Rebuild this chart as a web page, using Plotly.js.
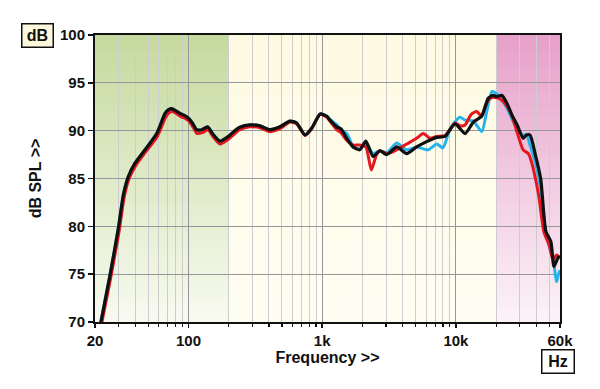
<!DOCTYPE html>
<html>
<head>
<meta charset="utf-8">
<script src="https://cdn.plot.ly/plotly-3.0.1.min.js"></script>
<style>html,body{margin:0;padding:0;background:#fff}#chart{width:600px;height:389px}</style>
</head>
<body>
<div id="chart"></div>
<script>
// ---- Data ----
const freqBlack = [22, 25.9, 29.9, 32.6, 35.5, 39.8, 47.3, 57.9, 66.8, 71, 74.9, 80, 86.4, 93, 100, 107, 115, 126, 139, 153, 172, 199, 222, 242, 288, 342, 406, 483, 574, 644, 745, 834, 966, 1084, 1143, 1286, 1380, 1524, 1700, 1912, 2120, 2400, 2700, 3040, 3610, 4280, 5080, 6040, 7170, 8280, 9840, 11700, 13500, 15560, 17460, 19000, 20100, 22000, 24000, 26300, 28700, 31800, 33700, 35800, 39300, 43000, 47100, 51300, 54100, 58500, 60000];
const splBlack = [69.8, 74.9, 79.8, 83.3, 85.2, 86.6, 88.0, 89.7, 91.8, 92.2, 92.3, 92.1, 91.8, 91.6, 91.3, 90.8, 90.1, 90.1, 90.4, 89.6, 88.9, 89.4, 90.0, 90.35, 90.6, 90.5, 90.1, 90.4, 91.0, 90.8, 89.55, 90.25, 91.75, 91.5, 91.1, 90.4, 90.2, 89.2, 88.3, 88.0, 88.9, 87.3, 87.9, 87.5, 88.3, 87.6, 88.3, 88.85, 89.3, 89.4, 90.7, 89.7, 90.9, 91.5, 93.4, 93.7, 93.55, 93.7, 92.9, 91.6, 90.6, 89.2, 89.55, 89.55, 87.45, 85.0, 79.45, 78.4, 75.8, 76.8, 76.7];

const freqRed = [22.4, 26.2, 30.3, 33, 36, 40.5, 48, 58.5, 67.5, 72, 76, 81, 87, 94, 101, 108, 116, 127, 140, 154, 172, 199, 222, 242, 288, 342, 406, 483, 574, 644, 745, 834, 966, 1084, 1143, 1286, 1380, 1524, 1700, 1912, 2120, 2330, 2550, 2700, 3040, 3400, 3610, 4280, 5080, 5700, 6400, 7170, 8280, 9300, 9840, 10800, 11700, 13000, 14300, 15560, 16500, 17460, 19000, 21500, 24000, 26300, 28700, 31800, 34800, 36600, 41500, 45500, 49600, 53300, 56500, 60000];
const splRed = [69.8, 74.6, 79.5, 83.0, 85.0, 86.4, 87.8, 89.4, 91.4, 91.9, 92.0, 91.8, 91.5, 91.3, 91.0, 90.4, 89.7, 89.8, 90.1, 89.3, 88.6, 89.1, 89.7, 90.1, 90.4, 90.3, 89.9, 90.2, 90.9, 90.7, 89.5, 90.2, 91.7, 91.4, 91.0, 90.1, 89.8, 89.0, 88.5, 88.5, 88.3, 85.9, 87.5, 87.9, 87.6, 87.8, 88.0, 88.6, 89.2, 89.7, 89.2, 89.4, 89.5, 90.4, 90.8, 90.5, 90.6, 91.7, 92.0, 91.5, 92.4, 93.2, 93.5, 93.3, 92.6, 91.5, 89.8, 88.0, 87.6, 86.8, 83.3, 79.4, 78.1, 76.5, 77.0, 76.7];

const freqCyan = [22, 25.9, 29.9, 32.6, 35.5, 39.8, 47.3, 57.9, 66.8, 71, 74.9, 80, 86.4, 93, 100, 107, 115, 126, 139, 153, 172, 199, 222, 242, 288, 342, 406, 483, 574, 644, 745, 834, 966, 1084, 1143, 1286, 1380, 1524, 1700, 1912, 2120, 2400, 2700, 3040, 3610, 4280, 5080, 6200, 7200, 8000, 9100, 10700, 11700, 13500, 15600, 17000, 18600, 20000, 21500, 24000, 26300, 28700, 31800, 33700, 35800, 39300, 43000, 47100, 51300, 54100, 56500, 58300, 60000];
const splCyan = [69.8, 74.9, 79.8, 83.3, 85.2, 86.6, 88.0, 89.7, 91.8, 92.2, 92.3, 92.1, 91.8, 91.6, 91.3, 90.8, 90.1, 90.1, 90.4, 89.6, 88.9, 89.4, 90.0, 90.35, 90.6, 90.5, 90.1, 90.4, 91.0, 90.8, 89.55, 90.25, 91.75, 91.5, 91.2, 90.6, 90.1, 89.7, 88.4, 88.1, 88.7, 87.6, 87.9, 87.7, 88.7, 88.0, 88.3, 88.0, 88.6, 88.2, 90.3, 91.4, 91.1, 91.0, 89.9, 92.0, 94.1, 93.9, 93.4, 92.4, 91.2, 90.2, 89.5, 89.6, 88.5, 86.6, 84.0, 79.1, 77.4, 76.0, 74.2, 74.9, 75.4];

const xTickVals = [20, 100, 1000, 10000, 60000];
const xTickText = ['20', '100', '1k', '10k', '60k'];
const yTickVals = [70, 75, 80, 85, 90, 95, 100];

// ---- Background zones (frequency bands) ----
const zoneEdges = [20, 200, 20000, 60000];
const zoneTop = [[197, 218, 158], [254, 250, 226], [230, 160, 201]];
const zoneBot = [[248, 250, 240], [254, 253, 242], [252, 244, 248]];

const LMIN = Math.log10(20), LMAX = Math.log10(60000);
const xp = f => (Math.log10(f) - LMIN) / (LMAX - LMIN);

const shapes = [];
const N = 60;
for (let z = 0; z < 3; z++) {
  const x0 = xp(zoneEdges[z]), x1 = xp(zoneEdges[z + 1]);
  for (let i = 0; i < N; i++) {
    const t = (i + 0.5) / N; // 0 = top, 1 = bottom
    const c = zoneTop[z].map((v, k) => Math.round(v + (zoneBot[z][k] - v) * t));
    shapes.push({
      type: 'rect', xref: 'paper', yref: 'paper', layer: 'below',
      x0: x0, x1: x1, y0: 1 - (i + 1) / N - 0.002, y1: 1 - i / N,
      fillcolor: 'rgb(' + c.join(',') + ')', line: {width: 0}
    });
  }
}

// minor ticks (2..9 per decade)
const minorVals = [];
for (let d = 10; d <= 10000; d *= 10) {
  for (let m = 2; m <= 9; m++) {
    const v = m * d;
    if (v > 20 && v < 60000 && xTickVals.indexOf(v) < 0) minorVals.push(v);
  }
}

const FONT = '"Liberation Sans", Arial, sans-serif';

const mk = (x, y, color, width) => ({
  x: x, y: y, type: 'scatter', mode: 'lines',
  line: {color: color, width: width, shape: 'spline', smoothing: 0.6},
  hoverinfo: 'skip', showlegend: false, cliponaxis: true
});

const traces = [
  mk(freqCyan, splCyan, '#22b4ea', 3),
  mk(freqRed, splRed, '#e5161d', 3),
  mk(freqBlack, splBlack, '#101010', 3.2)
];

const layout = {
  width: 600, height: 389,
  margin: {l: 95, r: 40, t: 35, b: 67},
  paper_bgcolor: '#ffffff',
  plot_bgcolor: '#ffffff',
  font: {family: FONT, size: 15, color: '#111'},
  showlegend: false,
  xaxis: {
    type: 'log',
    range: [LMIN, LMAX],
    tickvals: xTickVals, ticktext: xTickText,
    tickfont: {family: FONT, size: 15, color: '#111', weight: 'bold'},
    ticks: 'outside', ticklen: 4, tickwidth: 1.5, tickcolor: '#111',
    showgrid: true, gridcolor: 'rgb(150,150,155)', gridwidth: 1,
    minor: {tickvals: minorVals, ticks: 'outside', ticklen: 3, tickwidth: 1.2, tickcolor: '#111',
            showgrid: true, gridcolor: 'rgb(205,205,208)', gridwidth: 1},
    showline: true, linecolor: '#111', linewidth: 2, mirror: true,
    zeroline: false,
    title: {text: 'Frequency >>', font: {family: FONT, size: 16, color: '#111', weight: 'bold'}, standoff: 4}
  },
  yaxis: {
    range: [70, 100],
    tickvals: yTickVals,
    tickfont: {family: FONT, size: 15, color: '#111', weight: 'bold'},
    ticks: 'outside', ticklen: 5, tickwidth: 1.5, tickcolor: '#111',
    showgrid: true, gridcolor: 'rgb(150,150,155)', gridwidth: 1,
    showline: true, linecolor: '#111', linewidth: 2, mirror: true,
    zeroline: false,
    title: {text: 'dB SPL >>', font: {family: FONT, size: 16, color: '#111', weight: 'bold'}, standoff: 14}
  },
  shapes: shapes,
  annotations: [
    {xref: 'paper', yref: 'paper', x: (37.5 - 95) / 465, y: 1 - (35 - 35) / 287,
     xanchor: 'center', yanchor: 'middle', showarrow: false,
     text: 'dB', font: {family: FONT, size: 16, color: '#111', weight: 'bold'},
     bgcolor: '#fdf8dc', bordercolor: '#111', borderwidth: 1.5, borderpad: 2, width: 26, height: 18},
    {xref: 'paper', yref: 'paper', x: (558 - 95) / 465, y: 1 - (361 - 35) / 287,
     xanchor: 'center', yanchor: 'middle', showarrow: false,
     text: 'Hz', font: {family: FONT, size: 16, color: '#111', weight: 'bold'},
     bgcolor: '#ffffff', bordercolor: '#111', borderwidth: 1.5, borderpad: 2, width: 27, height: 18}
  ]
};

Plotly.newPlot('chart', traces, layout, {staticPlot: true, displayModeBar: false});
</script>
</body>
</html>
